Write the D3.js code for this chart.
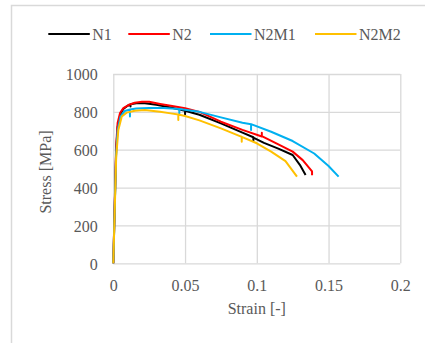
<!DOCTYPE html>
<html><head><meta charset="utf-8">
<script src="https://cdn.jsdelivr.net/npm/d3@7"></script>
<style>html,body{margin:0;padding:0;background:#fff;}svg{display:block;}
svg text{font-family:"Liberation Serif","DejaVu Serif",serif;}</style>
</head><body>
<svg id="chart" width="425" height="343"></svg>
<script>
const seriesNames = ["N1", "N2", "N2M1", "N2M2"];
const seriesColors = ["#000000", "#ff0000", "#00b0f0", "#ffc000"];
const xTicks = [0, 0.05, 0.1, 0.15, 0.2];
const yTicks = [0, 200, 400, 600, 800, 1000];

const n1Strain = [0, 0.001, 0.002, 0.003, 0.005, 0.007, 0.010, 0.012, 0.012, 0.012, 0.016, 0.022, 0.030, 0.040, 0.050, 0.050, 0.050, 0.060, 0.075, 0.090, 0.0976, 0.0976, 0.0976, 0.105, 0.115, 0.125, 0.130, 0.134];
const n1Stress = [0, 300, 600, 720, 790, 815, 832, 838, 828, 840, 845, 845, 838, 823, 806, 788, 806, 785, 739, 690, 666, 648, 664, 636, 606, 572, 520, 466];

const n2Strain = [0, 0.001, 0.002, 0.003, 0.0047, 0.007, 0.0105, 0.015, 0.020, 0.025, 0.0326, 0.040, 0.050, 0.060, 0.075, 0.090, 0.1035, 0.1035, 0.1035, 0.115, 0.125, 0.132, 0.1385, 0.1385];
const n2Stress = [0, 320, 620, 741, 794, 820, 836, 848, 854, 853, 842, 832, 819, 800, 748, 705, 670, 690, 672, 628, 590, 545, 485, 465];

const n2m1Strain = [0, 0.001, 0.002, 0.003, 0.005, 0.008, 0.0116, 0.0116, 0.0116, 0.016, 0.025, 0.035, 0.046, 0.046, 0.046, 0.060, 0.075, 0.090, 0.096, 0.096, 0.096, 0.110, 0.125, 0.140, 0.150, 0.157];
const n2m1Stress = [0, 300, 580, 700, 775, 805, 812, 775, 812, 818, 820, 820, 815, 790, 815, 800, 771, 742, 735, 704, 735, 695, 646, 580, 514, 458];

const n2m2Strain = [0, 0.001, 0.002, 0.0035, 0.0059, 0.0093, 0.015, 0.022, 0.0326, 0.040, 0.0453, 0.0453, 0.0453, 0.050, 0.060, 0.075, 0.0895, 0.0895, 0.0895, 0.100, 0.110, 0.120, 0.128];
const n2m2Stress = [0, 280, 560, 704, 775, 796, 806, 810, 800, 792, 786, 757, 786, 778, 755, 713, 668, 642, 668, 634, 590, 540, 458];

const seriesStrain = [n1Strain, n2Strain, n2m1Strain, n2m2Strain];
const seriesStress = [n1Stress, n2Stress, n2m1Stress, n2m2Stress];

const svg = d3.select("#chart");
const fontSize = "16px";
const textColor = "#595959";
const gridColor = "#d9d9d9";

function styleText(sel) {
  sel.attr("font-family", null).style("font-size", fontSize).attr("fill", textColor);
}

// outer chart border
svg.append("rect").attr("x", 11.5).attr("y", 5.5).attr("width", 600).attr("height", 600)
  .attr("fill", "none").attr("stroke", "#d9d9d9").attr("stroke-width", 1.5);

const pLeft = 113.3, pRight = 400.3, pTop = 74, pBottom = 263.3;
const x = d3.scaleLinear().domain([0, 0.2]).range([pLeft, pRight]);
const y = d3.scaleLinear().domain([0, 1000]).range([pBottom, pTop]);

// grid
const xg = svg.append("g").attr("transform", `translate(0,${pBottom})`)
  .call(d3.axisBottom(x).tickValues(xTicks).tickSize(-(pBottom - pTop)).tickFormat(""));
xg.select(".domain").remove();
xg.selectAll("line").attr("stroke", gridColor).attr("stroke-width", 1.3);
const yg = svg.append("g").attr("transform", `translate(${pLeft},0)`)
  .call(d3.axisLeft(y).tickValues(yTicks).tickSize(-(pRight - pLeft)).tickFormat(""));
yg.select(".domain").remove();
yg.selectAll("line").attr("stroke", gridColor).attr("stroke-width", 1.3);

// tick labels
const xa = svg.append("g").attr("transform", `translate(0,${pBottom})`)
  .call(d3.axisBottom(x).tickValues(xTicks).tickSize(0).tickFormat(d => String(d)));
xa.attr("font-family", null);
xa.select(".domain").remove();
xa.selectAll("text").attr("y", 28).attr("dy", 0).call(styleText);
const ya = svg.append("g").attr("transform", `translate(${pLeft},0)`)
  .call(d3.axisLeft(y).tickValues(yTicks).tickSize(0).tickPadding(15.5).tickFormat(d => String(d)));
ya.attr("font-family", null);
ya.select(".domain").remove();
ya.selectAll("text").attr("dy", "0.36em").call(styleText);

// axis titles
svg.append("text").attr("x", (pLeft + pRight) / 2).attr("y", 313.5).attr("text-anchor", "middle")
  .call(styleText).text("Strain [-]");
svg.append("text").attr("transform", `translate(51,172) rotate(-90)`).attr("text-anchor", "middle")
  .call(styleText).text("Stress [MPa]");

// lines
const line = d3.line().x(d => x(d[0])).y(d => y(d[1]));
seriesNames.forEach((name, i) => {
  const pts = seriesStrain[i].map((s, j) => [s, seriesStress[i][j]]);
  svg.append("path").datum(pts).attr("d", line).attr("fill", "none")
    .attr("stroke", seriesColors[i]).attr("stroke-width", 2).attr("stroke-linejoin", "round");
});

// legend
const legendX = [48.3, 128.3, 210, 315];
const lg = svg.append("g");
seriesNames.forEach((name, i) => {
  lg.append("line").attr("x1", legendX[i]).attr("x2", legendX[i] + 41.5).attr("y1", 34).attr("y2", 34)
    .attr("stroke", seriesColors[i]).attr("stroke-width", 2);
  lg.append("text").attr("x", legendX[i] + 44).attr("y", 40).call(styleText).text(name);
});
</script>
</body></html>
